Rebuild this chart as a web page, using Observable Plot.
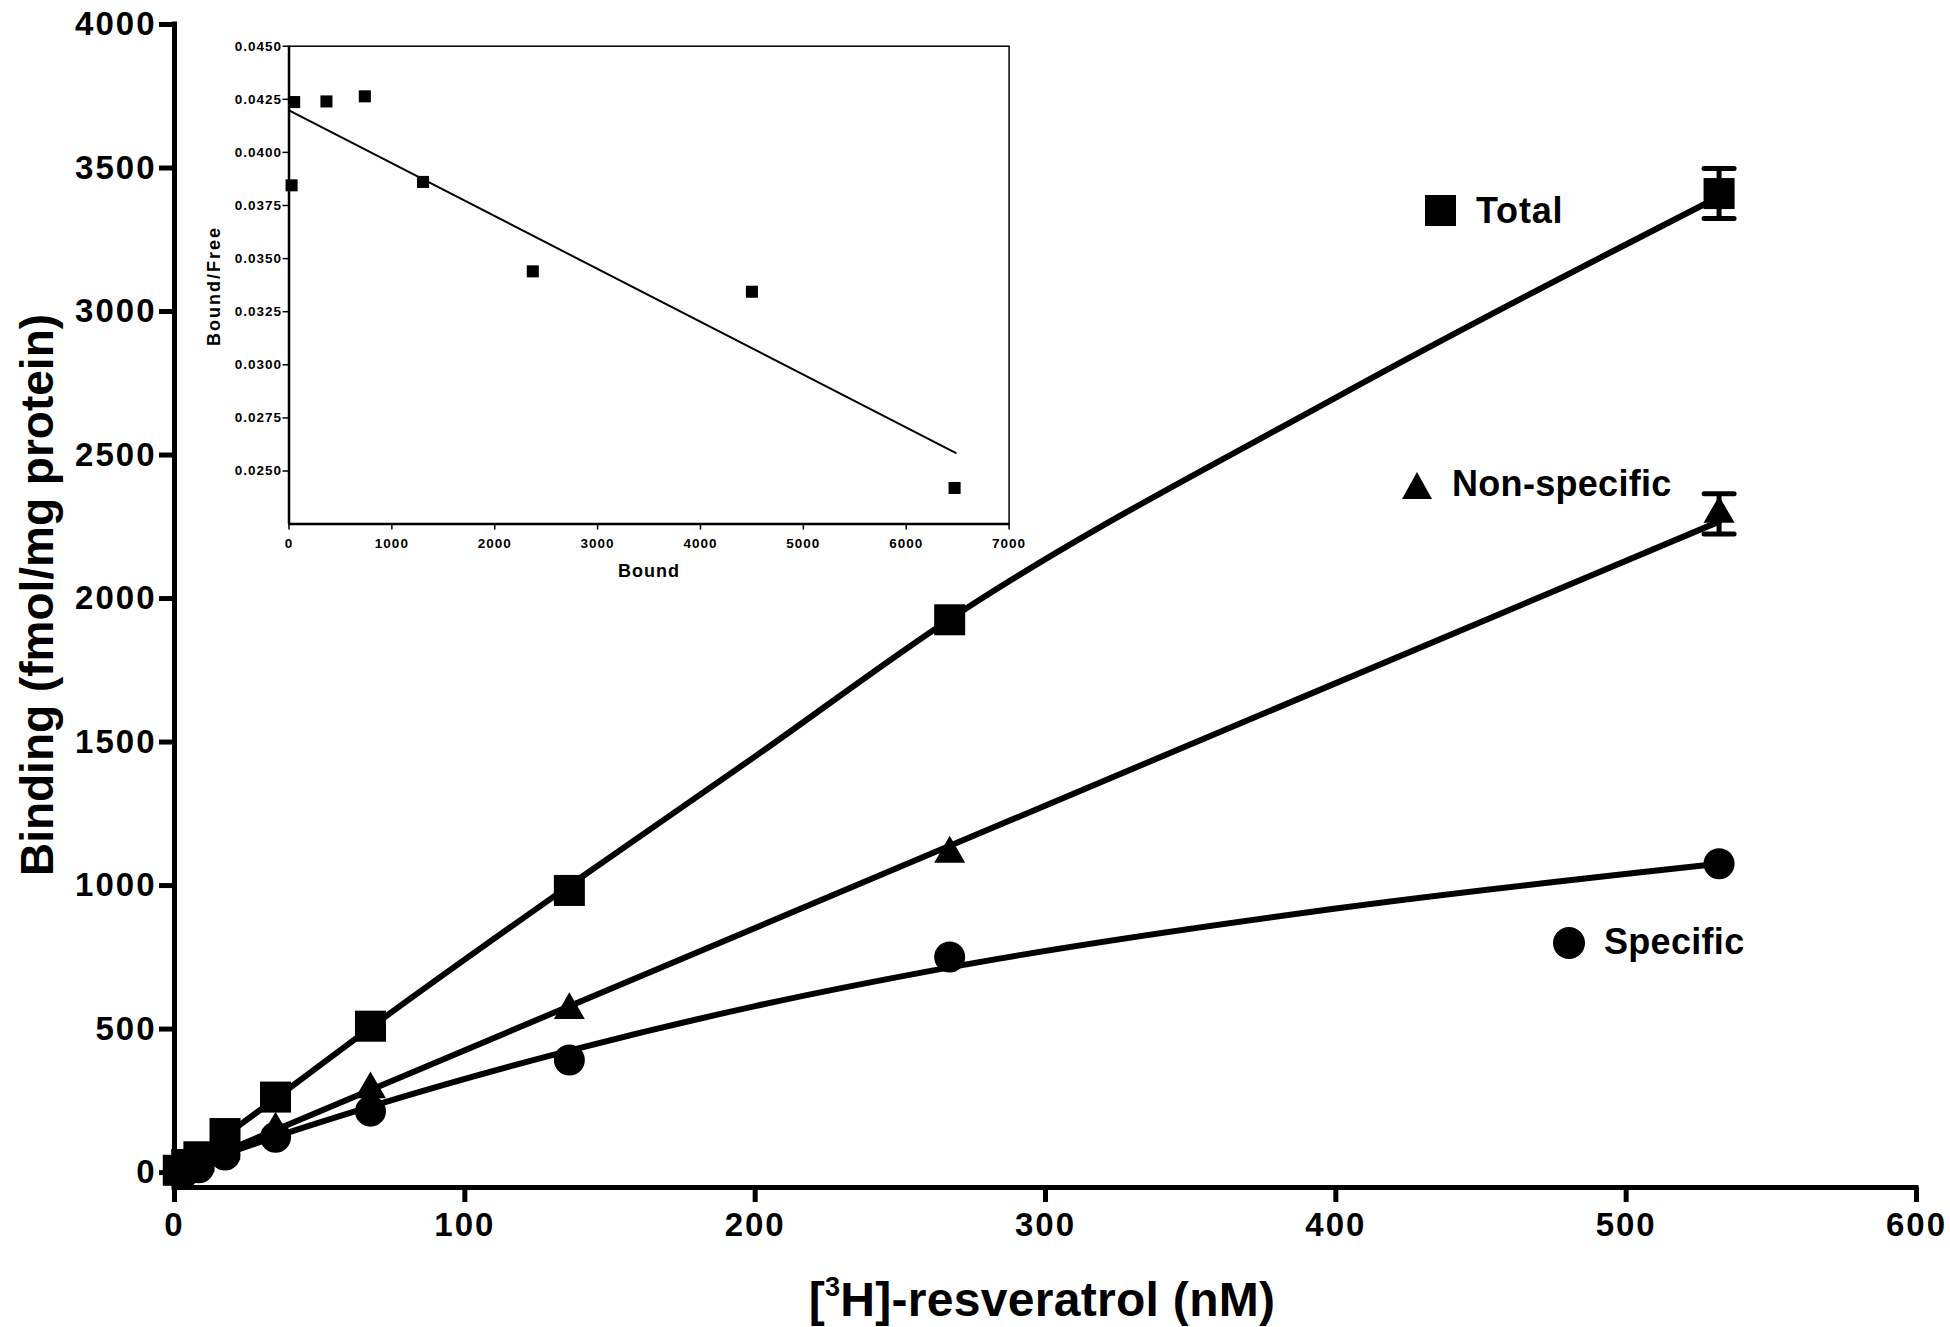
<!DOCTYPE html>
<html>
<head>
<meta charset="utf-8">
<script src="https://cdn.jsdelivr.net/npm/d3@7"></script>
<script src="https://cdn.jsdelivr.net/npm/@observablehq/plot@0.6"></script>
<style>
  html, body { margin: 0; padding: 0; background: #fff; }
  #wrap { position: relative; width: 1950px; height: 1327px; overflow: hidden;
          font-family: "Liberation Sans", Arial, sans-serif; font-weight: bold; color: #000; }
  .t { position: absolute; white-space: nowrap; line-height: 1; }
  .mk { position: absolute; }
</style>
</head>
<body>
<div id="wrap"></div>
<script>
// ---------------- main chart data ----------------
const conc = [1.3, 4.2, 8.4, 17.4, 34.8, 67.5, 136, 267, 532];            // [3H]-resveratrol (nM)
const totalBinding = [8, 28, 55, 136, 263, 510, 983, 1926, 3411];          // fmol/mg protein
const nonSpecificBinding = [5, 18, 38, 75, 150, 290, 566, 1111, 2295];
const specificBinding = [4, 8, 17, 61, 123, 214, 392, 751, 1076];
const totalErr = [0, 0, 0, 0, 0, 0, 0, 0, 87];
const nonSpecificErr = [0, 0, 0, 0, 0, 0, 0, 0, 70];

// fitted curves
const fitConc = [0, 17.4, 34.8, 67.5, 136, 200, 267, 400, 532];
const totalFit = [0, 128, 258, 505, 1000, 1450, 1928, 2700, 3400];
const specificFit = [0, 64, 125, 230, 425, 580, 715, 920, 1076];
const nonSpecificFitConc = [0, 532];
const nonSpecificFit = [0, 2268];

const xTicks = [0, 100, 200, 300, 400, 500, 600];
const yTicks = [0, 500, 1000, 1500, 2000, 2500, 3000, 3500, 4000];
const xDomain = [0, 600];
const yDomain = [-52, 4000];

const seriesNames = ["Total", "Non-specific", "Specific"];

// ---------------- inset (Scatchard) data ----------------
const bound = [25, 50, 364, 737, 1303, 2370, 4500, 6470];
const boundFree = [0.03845, 0.04237, 0.0424, 0.04264, 0.03861, 0.0344, 0.03344, 0.0242];
const scatFitBound = [0, 6480];
const scatFitBF = [0.04198, 0.02585];
const insetXTicks = [0, 1000, 2000, 3000, 4000, 5000, 6000, 7000];
const insetYTicks = [0.025, 0.0275, 0.03, 0.0325, 0.035, 0.0375, 0.04, 0.0425, 0.045];
const insetXDomain = [0, 7000];
const insetYDomain = [0.0225, 0.045];

// ---------------- build tables ----------------
const pts = (ys, errs) => conc.map((x, i) => ({x, y: ys[i], e: errs ? errs[i] : 0}));
const totalPts = pts(totalBinding, totalErr);
const nsPts = pts(nonSpecificBinding, nonSpecificErr);
const spPts = pts(specificBinding);
const curve = (xs, ys) => xs.map((x, i) => ({x, y: ys[i]}));
const errPts = [...totalPts, ...nsPts].filter(d => d.e > 0);

const capSymbol = {
  draw(ctx, size) {
    const w = Math.sqrt(size / Math.PI);
    ctx.moveTo(-w, 0);
    ctx.lineTo(w, 0);
  }
};

const font = "'Liberation Sans', Arial, Helvetica, sans-serif";

const main = Plot.plot({
  width: 1950,
  height: 1327,
  marginLeft: 174,
  marginRight: 34,
  marginTop: 24,
  marginBottom: 140,
  style: {fontFamily: font, fontWeight: "bold", background: "white", color: "black", letterSpacing: "2px", overflow: "visible"},
  x: {domain: xDomain},
  y: {domain: yDomain},
  marks: [
    Plot.ruleX([xDomain[0]], {y1: yDomain[0], y2: yDomain[1], stroke: "black", strokeWidth: 5, strokeLinecap: "square"}),
    Plot.ruleY([yDomain[0]], {x1: xDomain[0], x2: xDomain[1], stroke: "black", strokeWidth: 5, strokeLinecap: "square"}),
    Plot.axisY({ticks: yTicks, tickSize: 15, tickPadding: 3, strokeWidth: 5, fontSize: 33, fontWeight: "bold",
                tickFormat: d => String(d), label: null}),
    Plot.axisX({ticks: xTicks, tickSize: 15, tickPadding: 10, strokeWidth: 5, fontSize: 33, fontWeight: "bold",
                tickFormat: d => String(d), label: null}),
    Plot.line(curve(fitConc, totalFit), {x: "x", y: "y", curve: "monotone-x", stroke: "black", strokeWidth: 6}),
    Plot.line(curve(nonSpecificFitConc, nonSpecificFit), {x: "x", y: "y", stroke: "black", strokeWidth: 6}),
    Plot.line(curve(fitConc, specificFit), {x: "x", y: "y", curve: "monotone-x", stroke: "black", strokeWidth: 6}),
    Plot.ruleX(errPts, {x: "x", y1: d => d.y - d.e, y2: d => d.y + d.e, stroke: "black", strokeWidth: 5}),
    Plot.dot(errPts, {x: "x", y: d => d.y + d.e, symbol: capSymbol, r: 15, fill: "none", stroke: "black", strokeWidth: 5, strokeLinecap: "round"}),
    Plot.dot(errPts, {x: "x", y: d => d.y - d.e, symbol: capSymbol, r: 15, fill: "none", stroke: "black", strokeWidth: 5, strokeLinecap: "round"}),
    Plot.dot(spPts, {x: "x", y: "y", symbol: "circle", r: 15.5, fill: "black", stroke: "none"}),
    Plot.dot(nsPts, {x: "x", y: "y", symbol: "triangle", r: 11.5, fill: "black", stroke: "none"}),
    Plot.dot(totalPts, {x: "x", y: "y", symbol: "square", r: 17.5, fill: "black", stroke: "none"})
  ]
});

const inset = Plot.plot({
  width: 830,
  height: 570,
  marginLeft: 88.5,
  marginRight: 21.4,
  marginTop: 15.7,
  marginBottom: 76.4,
  style: {fontFamily: font, fontWeight: "bold", background: "transparent", color: "black", letterSpacing: "1px", overflow: "visible"},
  x: {domain: insetXDomain},
  y: {domain: insetYDomain},
  marks: [
    Plot.frame({stroke: "black", strokeWidth: 1.5}),
    Plot.ruleX([insetXDomain[0]], {stroke: "black", strokeWidth: 2.5}),
    Plot.ruleY([insetYDomain[0]], {stroke: "black", strokeWidth: 2.5}),
    Plot.axisY({ticks: insetYTicks, tickSize: 6, tickPadding: 1, strokeWidth: 1.5, fontSize: 13.5, fontWeight: "bold",
                tickFormat: d3.format(".4f"), label: null}),
    Plot.axisX({ticks: insetXTicks, tickSize: 6, tickPadding: 8, strokeWidth: 1.5, fontSize: 13.5, fontWeight: "bold",
                tickFormat: d => String(d), label: null}),
    Plot.line(scatFitBound.map((x, i) => ({x, y: scatFitBF[i]})), {x: "x", y: "y", stroke: "black", strokeWidth: 2}),
    Plot.dot(bound.map((x, i) => ({x, y: boundFree[i]})), {x: "x", y: "y", symbol: "square", r: 6.8, fill: "black", stroke: "none"})
  ]
});

const wrap = document.getElementById("wrap");
main.style.position = "absolute";
main.style.left = "0px";
main.style.top = "0px";
inset.style.position = "absolute";
inset.style.left = "200px";
inset.style.top = "30px";
wrap.appendChild(main);
wrap.appendChild(inset);

function addText(html, css) {
  const d = document.createElement("div");
  d.className = "t";
  d.innerHTML = html;
  Object.assign(d.style, css);
  wrap.appendChild(d);
  return d;
}
function addMarker(css) {
  const d = document.createElement("div");
  d.className = "mk";
  Object.assign(d.style, css);
  wrap.appendChild(d);
}

// axis titles
addText('[<span style="font-size:27px;position:relative;top:-20px;">3</span>H]-resveratrol (nM)',
        {left: "642px", width: "800px", textAlign: "center", top: "1276px", fontSize: "48px", letterSpacing: "0.3px"});
addText("Binding (fmol/mg protein)",
        {left: "-363px", width: "800px", textAlign: "center", top: "572px", fontSize: "46px", height: "46px",
         transform: "rotate(-90deg)", transformOrigin: "400px 23px"});

// inset axis titles
addText("Bound", {left: "549px", width: "200px", textAlign: "center", top: "562px", fontSize: "18px", letterSpacing: "1px"});
addText("Bound/Free", {left: "114px", width: "200px", textAlign: "center", top: "277px", fontSize: "18px", height: "18px",
        letterSpacing: "2px", transform: "rotate(-90deg)", transformOrigin: "100px 9px"});

// legend
addMarker({left: "1425px", top: "195px", width: "31px", height: "31px", background: "#000"});
addText(seriesNames[0], {left: "1476px", top: "193px", fontSize: "36px", letterSpacing: "0.8px"});
addMarker({left: "1402px", top: "472px", width: "0", height: "0", borderLeft: "15px solid transparent",
           borderRight: "15px solid transparent", borderBottom: "27px solid #000"});
addText(seriesNames[1], {left: "1452px", top: "466px", fontSize: "36px", letterSpacing: "0.3px"});
addMarker({left: "1553px", top: "927px", width: "32px", height: "32px", borderRadius: "50%", background: "#000"});
addText(seriesNames[2], {left: "1604px", top: "924px", fontSize: "36px", letterSpacing: "0.3px"});
</script>
</body>
</html>
